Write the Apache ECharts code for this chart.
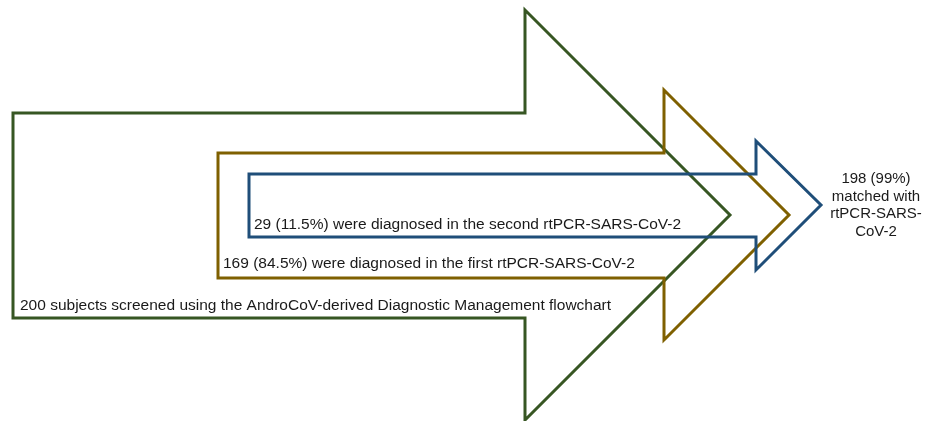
<!DOCTYPE html>
<html>
<head>
<meta charset="utf-8">
<script src="https://cdn.jsdelivr.net/npm/echarts@6/dist/echarts.min.js"></script>
<style>html,body{margin:0;padding:0;background:#fff}#c{width:935px;height:421px}</style>
</head>
<body>
<div id="c"></div>
<script>
// ---- data ----
const stages = ['screened', 'first rtPCR', 'second rtPCR'];
const stageCounts = [200, 169, 29];
const stageTexts = [
  '200 subjects screened using the AndroCoV-derived Diagnostic Management flowchart',
  '169 (84.5%) were diagnosed in the first rtPCR-SARS-CoV-2',
  '29 (11.5%) were diagnosed in the second rtPCR-SARS-CoV-2'
];
const stageColors = ['#375623', '#7f6000', '#1f4e79'];
const resultLines = ['198 (99%)', 'matched with', 'rtPCR-SARS-', 'CoV-2'];
// arrow layout (pixel space): left, bodyTop, bodyBottom, shaftEnd, headTop, headBottom, tipX, tipY
const arrowLeft = [13, 218, 249];
const arrowBodyTop = [113, 153, 174];
const arrowBodyBottom = [318, 278, 237];
const arrowShaftEnd = [525, 664, 756];
const arrowHeadTop = [10, 90, 141];
const arrowHeadBottom = [420, 340, 270];
const arrowTipX = [730, 789, 821];
const arrowTipY = [215, 215, 205];
const textX = [20, 223, 254];
const textY = [306, 264, 225];

const chart = echarts.init(document.getElementById('c'), null, {renderer: 'canvas'});
const data = stages.map((s, i) => [arrowLeft[i], arrowBodyTop[i], arrowBodyBottom[i], arrowShaftEnd[i],
  arrowHeadTop[i], arrowHeadBottom[i], arrowTipX[i], arrowTipY[i], textX[i], textY[i], i]);
const FONT = '"Liberation Sans", Arial, Helvetica, sans-serif';

chart.setOption({
  animation: false,
  grid: {left: 0, top: 0, right: 0, bottom: 0},
  xAxis: {type: 'value', min: 0, max: 935, show: false},
  yAxis: {type: 'value', min: 0, max: 421, inverse: true, show: false},
  series: [{
    type: 'custom',
    coordinateSystem: 'cartesian2d',
    data: data,
    encode: {x: 0, y: 1},
    renderItem: function (params, api) {
      const v = k => api.value(k);
      const c = (x, y) => api.coord([x, y]);
      const L = v(0), T = v(1), B = v(2), S = v(3), HT = v(4), HB = v(5), TX = v(6), TY = v(7);
      const idx = v(10);
      const pts = [c(L, T), c(S, T), c(S, HT), c(TX, TY), c(S, HB), c(S, B), c(L, B)];
      const tp = c(v(8), v(9));
      return {
        type: 'group',
        children: [
          {type: 'polygon', shape: {points: pts},
           style: {fill: 'none', stroke: stageColors[idx], lineWidth: 3, lineJoin: 'miter'}, z2: idx},
          {type: 'text', x: tp[0], y: tp[1], z2: 10,
           style: {text: stageTexts[idx], fill: '#1a1a1a', font: '15.5px ' + FONT,
                   textAlign: 'left', textVerticalAlign: 'middle'}}
        ]
      };
    }
  }, {
    type: 'custom',
    coordinateSystem: 'cartesian2d',
    data: [[876, 179]],
    renderItem: function (params, api) {
      const p = api.coord([api.value(0), api.value(1)]);
      return {
        type: 'group',
        children: resultLines.map((t, k) => ({
          type: 'text', x: p[0], y: p[1] + k * 17.5,
          style: {text: t, fill: '#1a1a1a', font: '15px ' + FONT, textAlign: 'center', textVerticalAlign: 'middle'}
        }))
      };
    }
  }]
});
</script>
</body>
</html>
